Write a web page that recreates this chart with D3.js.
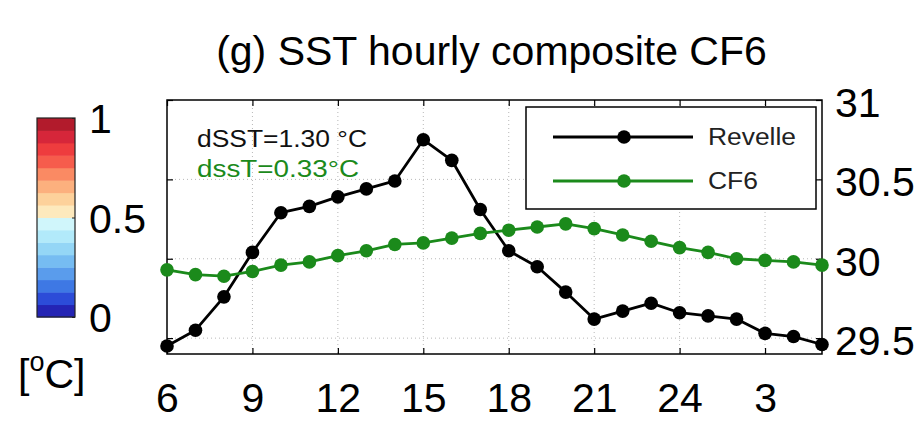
<!DOCTYPE html>
<html>
<head>
<meta charset="utf-8">
<script src="https://cdn.jsdelivr.net/npm/d3@7"></script>
<style>
  html, body { margin: 0; padding: 0; background: #fff; }
  svg { display: block; font-family: "Liberation Sans", Arial, Helvetica, sans-serif; }
</style>
</head>
<body>
<svg id="chart" width="922" height="439"></svg>
<script>
// Hour of day (6 .. 29, where 25..29 wrap to 1..5 of the next day)
const hours = d3.range(6, 30);
// Composite SST (°C)
const revelle = [29.45, 29.55, 29.76, 30.04, 30.29, 30.33, 30.39, 30.44, 30.49, 30.75,
                 30.62, 30.31, 30.05, 29.95, 29.79, 29.62, 29.67, 29.72, 29.66, 29.64,
                 29.62, 29.53, 29.51, 29.46];
const cf6 = [29.93, 29.90, 29.89, 29.92, 29.96, 29.98, 30.02, 30.05, 30.09, 30.10,
             30.13, 30.16, 30.18, 30.20, 30.22, 30.19, 30.15, 30.11, 30.07, 30.04,
             30.00, 29.99, 29.98, 29.96];
const xTicks = [6, 9, 12, 15, 18, 21, 24, 27];
const yTicks = [29.5, 30, 30.5, 31];
const seriesNames = ["Revelle", "CF6"];
const seriesColors = ["#000000", "#1b8a1b"];
// Colour bar levels, bottom (0) to top (1)
const cbarColors = ["#2424b4", "#2c4cd8", "#3e78e4", "#5a9cec", "#76bcf2", "#94d6f6",
                    "#b2eafa", "#d0f6fb", "#fde9bd", "#fdd19b", "#fcb07e", "#fa8a63",
                    "#f65c4c", "#ee3c3e", "#d6263a", "#b21b2c"];
const cbarTicks = [0, 0.5, 1];

const svg = d3.select("#chart");
const L = 167, R = 822, T = 100, B = 354;
const x = d3.scaleLinear().domain([6, 29]).range([L, R]);
const y = d3.scaleLinear().domain([29.4, 31]).range([B, T]);

// Title
svg.append("text")
  .attr("x", (L + R) / 2 - 3).attr("y", 65)
  .attr("text-anchor", "middle")
  .attr("font-size", 41)
  .text("(g) SST hourly composite CF6");

// Grid
const grid = svg.append("g").attr("stroke", "#b8b8b8").attr("stroke-width", 1)
  .attr("stroke-dasharray", "1,3");
grid.selectAll("line.v").data(xTicks.filter(d => d > 6)).join("line")
  .attr("x1", d => x(d)).attr("x2", d => x(d)).attr("y1", T).attr("y2", B);
grid.selectAll("line.h").data(yTicks.filter(d => d < 31)).join("line")
  .attr("x1", L).attr("x2", R).attr("y1", d => y(d)).attr("y2", d => y(d));

// Axes with inward ticks on all four sides
const fmtHour = d => (d > 24 ? d - 24 : d);
const axBottom = svg.append("g").attr("transform", `translate(0,${B})`)
  .call(d3.axisBottom(x).tickValues(xTicks).tickFormat(fmtHour).tickSize(-6).tickPadding(29));
const axTop = svg.append("g").attr("transform", `translate(0,${T})`)
  .call(d3.axisTop(x).tickValues(xTicks).tickFormat("").tickSize(-6));
const axLeft = svg.append("g").attr("transform", `translate(${L},0)`)
  .call(d3.axisLeft(y).tickValues(yTicks).tickFormat("").tickSize(-6));
const axRight = svg.append("g").attr("transform", `translate(${R},0)`)
  .call(d3.axisRight(y).tickValues(yTicks).tickFormat(d3.format("")).tickSize(-6).tickPadding(13));
[axBottom, axTop, axLeft, axRight].forEach(g => {
  g.select(".domain").remove();
  g.selectAll(".tick line").attr("stroke", "#000").attr("stroke-width", 1.2);
  g.selectAll("text").attr("font-size", 41).attr("fill", "#000")
    .attr("font-family", "Liberation Sans, Arial, sans-serif");
});
axRight.selectAll("text").attr("dy", "0.4em");

// Frame
svg.append("rect").attr("x", L).attr("y", T).attr("width", R - L).attr("height", B - T)
  .attr("fill", "none").attr("stroke", "#000").attr("stroke-width", 1.5);

// Series
const line = d3.line().x((d, i) => x(hours[i])).y(d => y(d));
[revelle, cf6].forEach((vals, k) => {
  const g = svg.append("g");
  g.append("path").datum(vals).attr("d", line)
    .attr("fill", "none").attr("stroke", seriesColors[k]).attr("stroke-width", 2.8)
    .attr("stroke-linejoin", "round");
  g.selectAll("circle").data(vals).join("circle")
    .attr("cx", (d, i) => x(hours[i])).attr("cy", d => y(d)).attr("r", 6.8)
    .attr("fill", seriesColors[k]);
});

// Range annotations
const range = v => (d3.max(v) - d3.min(v)).toFixed(2);
svg.append("text").attr("x", 197).attr("y", 147).attr("font-size", 23)
  .attr("textLength", 170).attr("lengthAdjust", "spacingAndGlyphs")
  .attr("fill", "#111").text(`dSST=${range(revelle)} °C`);
svg.append("text").attr("x", 197).attr("y", 177).attr("font-size", 23)
  .attr("textLength", 162).attr("lengthAdjust", "spacingAndGlyphs")
  .attr("fill", seriesColors[1]).text(`dssT=${range(cf6)}°C`);

// Legend
const leg = svg.append("g");
leg.append("rect").attr("x", 526).attr("y", 107).attr("width", 290).attr("height", 102)
  .attr("fill", "#fff").attr("stroke", "#000").attr("stroke-width", 1.5);
const legY = [137, 181], legW = [88, 50];
seriesNames.forEach((name, k) => {
  leg.append("line").attr("x1", 553).attr("x2", 693).attr("y1", legY[k]).attr("y2", legY[k])
    .attr("stroke", seriesColors[k]).attr("stroke-width", 2.8);
  leg.append("circle").attr("cx", 624).attr("cy", legY[k]).attr("r", 6.8)
    .attr("fill", seriesColors[k]);
  leg.append("text").attr("x", 708).attr("y", legY[k] + 8).attr("font-size", 23)
    .attr("textLength", legW[k]).attr("lengthAdjust", "spacingAndGlyphs")
    .attr("fill", "#222").text(name);
});

// Colour bar
const cbL = 37, cbR = 75, cbT = 118, cbB = 317;
const cy = d3.scaleLinear().domain([0, 1]).range([cbB, cbT]);
const band = 1 / cbarColors.length;
svg.append("g").selectAll("rect").data(cbarColors).join("rect")
  .attr("x", cbL).attr("width", cbR - cbL)
  .attr("y", (d, i) => cy((i + 1) * band)).attr("height", (d, i) => cy(i * band) - cy((i + 1) * band) + 0.5)
  .attr("fill", d => d);
svg.append("rect").attr("x", cbL).attr("y", cbT).attr("width", cbR - cbL).attr("height", cbB - cbT)
  .attr("fill", "none").attr("stroke", "#222").attr("stroke-width", 1.2);
const cbAxis = svg.append("g").attr("transform", `translate(${cbR},0)`)
  .call(d3.axisRight(cy).tickValues(cbarTicks).tickFormat(d3.format("")).tickSize(-3).tickPadding(14));
cbAxis.select(".domain").remove();
cbAxis.selectAll(".tick line").attr("stroke", "#222");
cbAxis.selectAll("text").attr("font-size", 41).attr("fill", "#000").attr("dy", "0.36em")
  .attr("font-family", "Liberation Sans, Arial, sans-serif");
const unit = svg.append("text").attr("x", 18).attr("y", 388).attr("font-size", 41);
unit.append("tspan").text("[");
unit.append("tspan").attr("font-size", 27).attr("dy", -17).text("o");
unit.append("tspan").attr("dy", 17).text("C]");
</script>
</body>
</html>
